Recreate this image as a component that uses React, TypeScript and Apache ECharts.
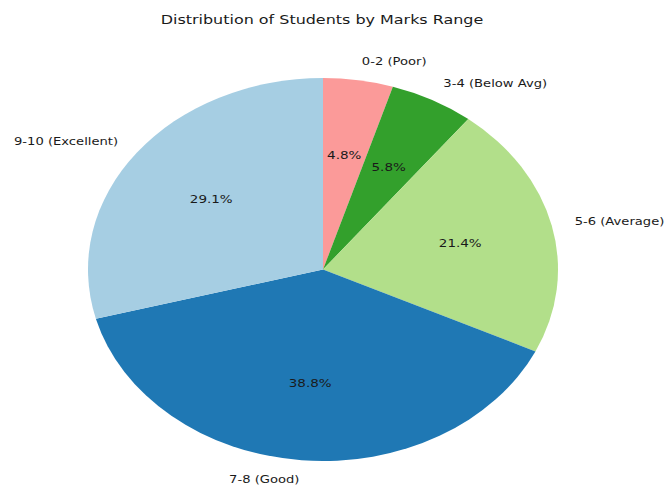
import React, { useEffect, useRef } from "react";
import * as echarts from "echarts";

const categories = ["0-2 (Poor)", "3-4 (Below Avg)", "5-6 (Average)", "7-8 (Good)", "9-10 (Excellent)"];
const sharePercents = [4.8, 5.8, 21.4, 38.8, 29.1];
const sliceColors = ["#fb9a99", "#33a02c", "#b2df8a", "#1f78b4", "#a6cee3"];
const titleText = "Distribution of Students by Marks Range";

export default function App() {
  const ref = useRef<HTMLDivElement>(null);
  useEffect(() => {
    const chart = echarts.init(ref.current!, null, { renderer: "svg" });
    const total = sharePercents.reduce((a, b) => a + b, 0);
    const CX = 323, CY = 269.5, RX = 235, RY = 191.5;
    const STRETCH = RX / RY;
    const font = "DejaVu Sans";
    const option: any = {
      animation: false,
      backgroundColor: "#ffffff",
      graphic: [
        {
          type: "text",
          x: 322,
          y: 19.5,
          scaleX: STRETCH,
          style: {
            text: titleText,
            align: "center",
            verticalAlign: "middle",
            fontFamily: font,
            fontSize: 13,
            fill: "#1a1a1a",
          },
        },
      ],
      series: [
        {
          type: "custom",
          coordinateSystem: "none",
          data: sharePercents.map((v, i) => ({ value: v, name: categories[i] })),
          renderItem: (params: any, api: any) => {
            const i = params.dataIndex;
            const v = api.value(0);
            let before = 0;
            for (let k = 0; k < i; k++) before += sharePercents[k];
            const a0 = -Math.PI / 2 + (before / total) * 2 * Math.PI;
            const a1 = a0 + (v / total) * 2 * Math.PI;
            const mid = (a0 + a1) / 2;
            const c = Math.cos(mid), s = Math.sin(mid);
            const pct = ((v / total) * 100).toFixed(1) + "%";
            return {
              type: "group",
              children: [
                {
                  type: "sector",
                  x: CX,
                  y: CY,
                  scaleX: 1,
                  scaleY: RY / RX,
                  shape: { cx: 0, cy: 0, r: RX, r0: 0, startAngle: a0, endAngle: a1, clockwise: true },
                  style: { fill: sliceColors[i] },
                },
                {
                  type: "text",
                  x: CX + 1.1 * RX * c,
                  y: CY + 1.1 * RY * s,
                  scaleX: STRETCH,
                  style: {
                    text: categories[i],
                    align: c >= 0 ? "left" : "right",
                    verticalAlign: "middle",
                    fontFamily: font,
                    fontSize: 10.7,
                    fill: "#1a1a1a",
                  },
                },
                {
                  type: "text",
                  x: CX + 0.6 * RX * c,
                  y: CY + 0.6 * RY * s,
                  scaleX: STRETCH,
                  style: {
                    text: pct,
                    align: "center",
                    verticalAlign: "middle",
                    fontFamily: font,
                    fontSize: 11,
                    fill: "#1a1a1a",
                  },
                },
              ],
            };
          },
        },
      ],
    };
    chart.setOption(option);
    return () => chart.dispose();
  }, []);
  return (
    <div
      ref={ref}
      style={{ position: "fixed", left: 0, top: 0, width: 665, height: 487, background: "#fff" }}
    />
  );
}
